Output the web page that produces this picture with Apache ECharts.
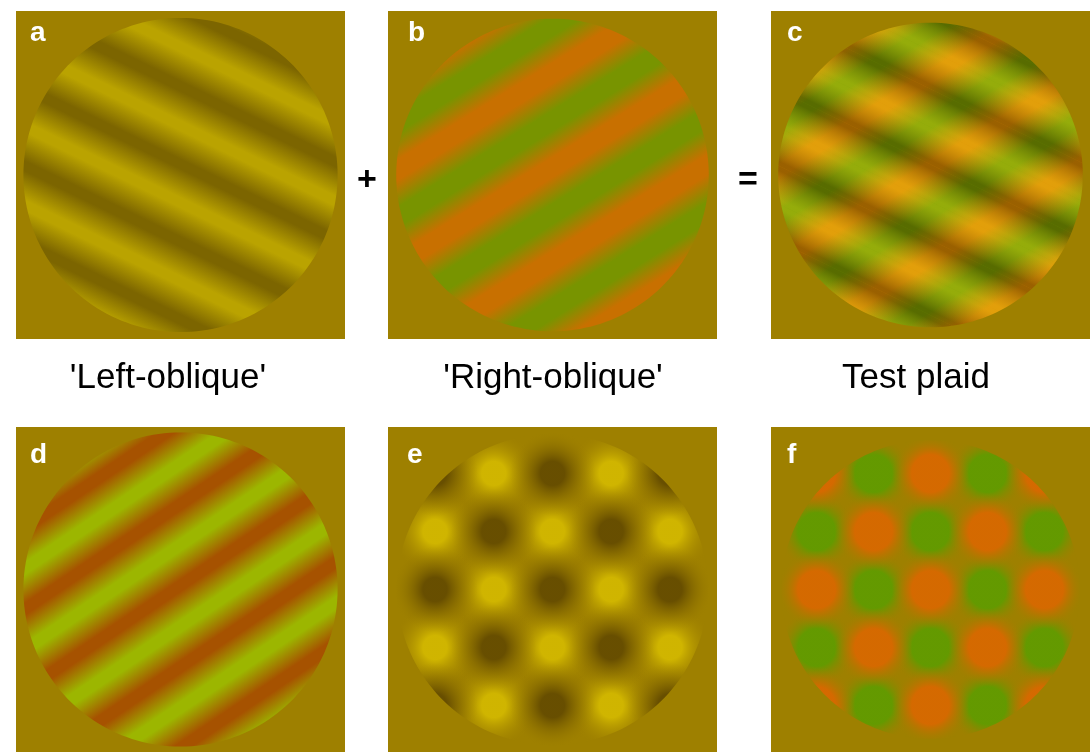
<!DOCTYPE html>
<html><head><meta charset="utf-8">
<script src="https://cdn.jsdelivr.net/npm/echarts@6/dist/echarts.min.js"></script>
<style>html,body{margin:0;padding:0;background:#fff;overflow:hidden}#chart{width:1090px;height:752px}</style>
</head><body><div id="chart"></div>
<script>
// ================= DATA =================
const panelLetters = ['a', 'b', 'c', 'd', 'e', 'f'];
const captions = ["'Left-oblique'", "'Right-oblique'", 'Test plaid'];
const operators = ['+', '='];

// Grating profiles: [position across the stripes (panel units, circle radius ≈ 0.955), level: 1 = peak, -1 = trough]
const leftOblique = [[-1.43, 1], [-1.215, -1], [-1.00, 1], [-0.79, -1], [-0.58, 1], [-0.365, -1], [-0.15, 1],
                     [0.06, -1], [0.27, 1], [0.485, -1], [0.70, 1], [0.91, -1], [1.12, 1], [1.335, -1], [1.55, 1]];
const rightOblique = [[-1.495, 1], [-1.25, -1], [-1.01, 1], [-0.77, -1], [-0.525, 1], [-0.28, -1], [-0.04, 1],
                      [0.20, -1], [0.445, 1], [0.69, -1], [0.93, 1], [1.17, -1], [1.415, 1], [1.66, -1]];
const combinedOblique = [[-1.455, 1], [-1.25, -1], [-1.045, 1], [-0.84, -1], [-0.635, 1], [-0.43, -1], [-0.225, 1],
                         [-0.02, -1], [0.185, 1], [0.39, -1], [0.595, 1], [0.80, -1], [1.005, 1], [1.21, -1], [1.415, 1]];
// Stripe orientation (degrees of the stripe normal, counter-clockwise from +x)
const leftObliqueNormalDeg = 64;
const rightObliqueNormalDeg = -58;
const combinedNormalDeg = -56;

// Plaid blobs: lattice column, lattice row
const lumPlaidBright = [[0, -3], [-1, -2], [1, -2], [-2, -1], [0, -1], [2, -1], [-3, 0], [-1, 0], [1, 0], [3, 0],
                        [-2, 1], [0, 1], [2, 1], [-1, 2], [1, 2], [0, 3]];
const lumPlaidDark = [[-2, -2], [0, -2], [2, -2], [-1, -1], [1, -1], [-2, 0], [0, 0], [2, 0],
                      [-1, 1], [1, 1], [-2, 2], [0, 2], [2, 2]];
const colPlaidGreen = [[0, -3], [-1, -2], [1, -2], [-2, -1], [0, -1], [2, -1], [-3, 0], [-1, 0], [1, 0], [3, 0],
                       [-2, 1], [0, 1], [2, 1], [-1, 2], [1, 2], [0, 3]];
const colPlaidOrange = [[-2, -2], [0, -2], [2, -2], [-1, -1], [1, -1], [-2, 0], [0, 0], [2, 0],
                        [-1, 1], [1, 1], [-2, 2], [0, 2], [2, 2]];

// ================= LAYOUT & STYLE =================
const BG = '#9E8000';
const FONT = '"Liberation Sans", Arial, Helvetica, sans-serif';
const grids = [
  { left: 16, top: 11, width: 329, height: 328 },
  { left: 388, top: 11, width: 329, height: 328 },
  { left: 771, top: 11, width: 330, height: 328 },
  { left: 16, top: 427, width: 329, height: 330 },
  { left: 388, top: 427, width: 329, height: 330 },
  { left: 771, top: 427, width: 330, height: 330 }
];
const axisRange = [1, 1, 1, 1, 2.8, 2.8];
const circleR = [0.955, 0.95, 0.955, 0.955, 2.65, 2.62];
const letterPos = [[30, 47], [408, 47], [787, 47], [30, 469], [407, 469], [787, 469]];

const colA = { 1: '#BAA300', '-1': '#7C6500' };
const colB = { 1: '#C87000', '-1': '#789400' };
const colD = { 1: '#9CB600', '-1': '#A65200' };
const colCbase = { 1: '#D88600', '-1': '#709800' };
const colCover = { 1: 'rgba(255,230,40,0.26)', '-1': 'rgba(45,30,0,0.36)' };

function bandRenderer(stops, normalDeg, palette, overlap, plateau) {
  return function (params, api) {
    const i = params.dataIndex;
    if (i >= stops.length - 1) return null;
    const c = api.coord([0, 0]);
    const unit = api.size([1, 0])[0];
    const x0 = stops[i][0] * unit, x1 = stops[i + 1][0] * unit;
    const half = 1.4 * unit;
    const ca = palette[stops[i][1]], cb = palette[stops[i + 1][1]];
    return {
      type: 'rect',
      x: c[0], y: c[1], rotation: normalDeg * Math.PI / 180,
      shape: { x: x0 - overlap, y: -half, width: x1 - x0 + 2 * overlap, height: 2 * half },
      style: {
        fill: new echarts.graphic.LinearGradient(0, 0, 1, 0, [
          { offset: 0, color: ca }, { offset: plateau, color: ca },
          { offset: 1 - plateau, color: cb }, { offset: 1, color: cb }
        ])
      }
    };
  };
}

function maskRenderer(r) {
  return function (params, api) {
    const cs = params.coordSys;
    const c = api.coord([0, 0]);
    const rp = api.size([r, 0])[0];
    const x = cs.x, y = cs.y, w = cs.width, h = cs.height;
    let d = 'M' + x + ' ' + y + 'L' + (x + w) + ' ' + y + 'L' + (x + w) + ' ' + (y + h) + 'L' + x + ' ' + (y + h) + 'Z';
    const n = 180;
    for (let k = 0; k <= n; k++) {
      const t = -2 * Math.PI * k / n; // opposite winding -> hole
      d += (k === 0 ? 'M' : 'L') + (c[0] + rp * Math.cos(t)).toFixed(2) + ' ' + (c[1] + rp * Math.sin(t)).toFixed(2);
    }
    d += 'Z';
    return { type: 'path', shape: { pathData: d }, style: { fill: BG } };
  };
}

function blob(color, core) {
  return {
    type: 'radial', x: 0.5, y: 0.5, r: 0.5,
    colorStops: [
      { offset: 0, color: color },
      { offset: core, color: color },
      { offset: 1, color: 'rgba(158,128,0,0)' }
    ]
  };
}

const series = [];
function gratingSeries(gi, stops, deg, pal, overlap, plateau, z) {
  series.push({ type: 'custom', xAxisIndex: gi, yAxisIndex: gi, z: z, silent: true, clip: true,
    renderItem: bandRenderer(stops, deg, pal, overlap, plateau), data: stops });
}
gratingSeries(0, leftOblique, leftObliqueNormalDeg, colA, 0.6, 0.14, 2);
gratingSeries(1, rightOblique, rightObliqueNormalDeg, colB, 0.6, 0.22, 2);
gratingSeries(2, rightOblique, rightObliqueNormalDeg, colCbase, 0.6, 0.15, 2);
gratingSeries(2, leftOblique, leftObliqueNormalDeg, colCover, 0, 0.12, 3);
gratingSeries(3, combinedOblique, combinedNormalDeg, colD, 0.6, 0.16, 2);

function blobSeries(gi, pts, color, size, core) {
  series.push({ type: 'scatter', xAxisIndex: gi, yAxisIndex: gi, z: 3, silent: true, clip: true,
    symbol: 'circle', symbolSize: size, data: pts,
    itemStyle: { color: blob(color, core) } });
}
blobSeries(4, lumPlaidBright, '#DCC200', 86, 0.28);
blobSeries(4, lumPlaidDark, '#5A4200', 86, 0.28);
blobSeries(5, colPlaidGreen, '#55A000', 78, 0.48);
blobSeries(5, colPlaidOrange, '#E26400', 78, 0.48);

for (let i = 0; i < 6; i++) {
  series.push({ type: 'custom', xAxisIndex: i, yAxisIndex: i, z: 10, silent: true, clip: true,
    renderItem: maskRenderer(circleR[i]), data: [[0, 0]] });
}

const graphics = [];
panelLetters.forEach((t, i) => graphics.push({ type: 'text', x: letterPos[i][0], y: letterPos[i][1], z: 100,
  style: { text: t, fill: '#fff', font: 'bold 28px ' + FONT, textVerticalAlign: 'bottom' } }));
const capX = [168, 553, 916];
captions.forEach((t, i) => graphics.push({ type: 'text', x: capX[i], y: 378, z: 100,
  style: { text: t, fill: '#000', font: '35px ' + FONT, textAlign: 'center', textVerticalAlign: 'middle' } }));
const opX = [367, 748];
operators.forEach((t, i) => graphics.push({ type: 'text', x: opX[i], y: 181, z: 100,
  style: { text: t, fill: '#000', font: 'bold 34px ' + FONT, textAlign: 'center', textVerticalAlign: 'middle' } }));

const option = {
  animation: false,
  backgroundColor: '#fff',
  grid: grids.map(g => Object.assign({ show: true, backgroundColor: BG, borderWidth: 0, containLabel: false }, g)),
  xAxis: grids.map((g, i) => ({ type: 'value', gridIndex: i, min: -axisRange[i], max: axisRange[i], show: false })),
  yAxis: grids.map((g, i) => ({ type: 'value', gridIndex: i, min: -axisRange[i], max: axisRange[i], show: false, inverse: true })),
  series: series,
  graphic: graphics
};
const chart = echarts.init(document.getElementById('chart'), null, { renderer: 'canvas' });
chart.setOption(option);
</script></body></html>
